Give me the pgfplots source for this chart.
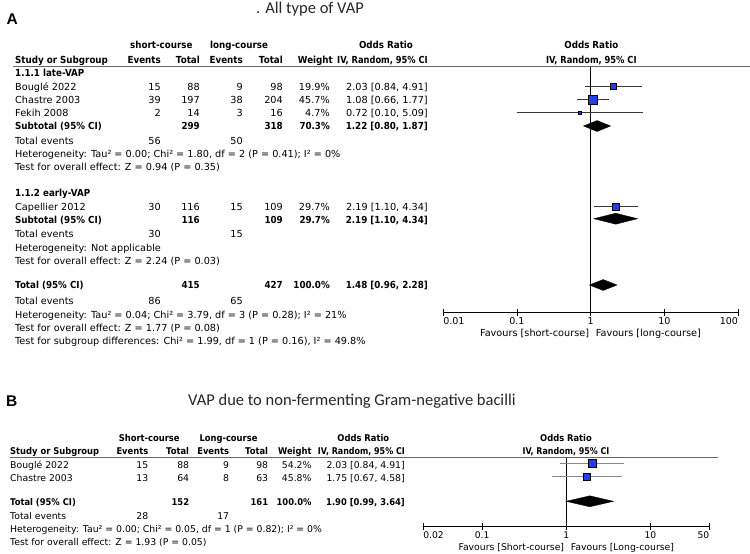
\documentclass[border=0pt]{standalone}
\usepackage{pgfplots}
\pgfplotsset{compat=1.18}
\usepackage{fontspec}
\setmainfont{DejaVu Sans}[BoldFeatures={FakeStretch=0.9}]
\newfontfamily\titlefont{Carlito}
\newfontfamily\labelfont{Liberation Sans}
\definecolor{sqblue}{RGB}{40,60,225}
\definecolor{cigrayA}{RGB}{55,55,55}
\definecolor{cigrayB}{RGB}{135,135,135}
\newcommand{\tl}[3]{\node[anchor=base west,inner sep=0pt] at (#1,#2) {#3};}
\newcommand{\tr}[3]{\node[anchor=base east,inner sep=0pt] at (#1,#2) {#3};}
\newcommand{\tc}[3]{\node[anchor=base,inner sep=0pt] at (#1,#2) {#3};}
\newcommand{\ivhdr}{\scalebox{0.95}[1]{IV, Random, 95\% CI}}
\begin{document}
\begin{tikzpicture}[x=1pt,y=-1pt]
\useasboundingbox (0,0) rectangle (750,554);
% ---------------- Panel A ----------------
\node[anchor=base west,inner sep=0pt,font=\labelfont\bfseries\fontsize{15.5}{16}\selectfont] at (6.5,24) {A};
\node[anchor=base west,inner sep=0pt,font=\titlefont\fontsize{16.5}{18}\selectfont,text=black!85] at (256,13.3) {. All type of VAP};
\begin{axis}[
  at={(443.3pt,-312pt)}, anchor=south west,
  scale only axis, width=294.7pt, height=245.5pt,
  xmode=log, xmin=0.01, xmax=100, ymin=-312, ymax=-66.5,
  axis x line=bottom, axis y line=none,
  x axis line style={-, line width=0.8pt},
  xtick={0.01,0.1,1,10,100},
  xticklabels={\rlap{0.01},0.1,1,10,\llap{100}},
  xminorticks=false, tick align=center, major tick length=7pt,
  xtick style={black, line width=0.8pt},
  xticklabel style={anchor=base, inner sep=0pt, yshift=-8.5pt, font=\fontsize{9.5}{10}\selectfont},
  clip=false,
]
\addplot[black, line width=0.8pt] coordinates {(1,-66.5) (1,-312)};
% confidence intervals
\addplot[cigrayA, line width=0.9pt] coordinates {(0.84,-86) (4.91,-86)};
\addplot[cigrayA, line width=0.9pt] coordinates {(0.66,-99.5) (1.77,-99.5)};
\addplot[cigrayA, line width=0.9pt] coordinates {(0.10,-112.5) (5.09,-112.5)};
\addplot[cigrayA, line width=0.9pt] coordinates {(1.10,-206.5) (4.34,-206.5)};
% study squares
\addplot[only marks, mark=square*, mark size=2.85pt, mark options={fill=sqblue, draw=none}] coordinates {(2.03,-86)};
\addplot[only marks, mark=square*, mark size=4.5pt, mark options={fill=sqblue, draw=none}] coordinates {(1.08,-99.5)};
\addplot[only marks, mark=square*, mark size=1.5pt, mark options={fill=sqblue, draw=none}] coordinates {(0.72,-112.5)};
\addplot[only marks, mark=square*, mark size=3.65pt, mark options={fill=sqblue, draw=none}] coordinates {(2.19,-206.5)};
% pooled diamonds
\addplot[fill=black, draw=black, line width=0.3pt] coordinates {(0.80,-126) (1.22,-120.5) (1.87,-126) (1.22,-131.5)} -- cycle;
\addplot[fill=black, draw=black, line width=0.3pt] coordinates {(1.10,-218.7) (2.19,-213.2) (4.34,-218.7) (2.19,-224.2)} -- cycle;
\addplot[fill=black, draw=black, line width=0.3pt] coordinates {(0.96,-285) (1.48,-279.5) (2.28,-285) (1.48,-290.5)} -- cycle;
\end{axis}
\draw[line width=1.1pt, black!60] (13,66.5) -- (750,66.5);
\begin{scope}[every node/.style={font=\fontsize{9.7}{11}\selectfont}]
\begin{scope}[every node/.append style={font=\fontsize{9.7}{11}\selectfont\bfseries}]
\tc{161.3}{48}{short-course}
\tc{239}{48}{long-course}
\tc{386}{48}{Odds Ratio}
\tc{591.3}{48}{Odds Ratio}
\tl{15}{63}{Study or Subgroup}
\tr{161}{63}{Events}
\tr{200}{63}{Total}
\tr{243}{63}{Events}
\tr{283}{63}{Total}
\tr{333}{63}{Weight}
\tr{428}{63}{\ivhdr}
\tc{591.3}{63}{\ivhdr}
\tl{15}{76.5}{1.1.1 late-VAP}
\tl{15}{129.5}{Subtotal (95\% CI)}
\tr{200}{129.5}{299}
\tr{283}{129.5}{318}
\tr{330}{129.5}{70.3\%}
\tr{428}{129.5}{1.22 [0.80, 1.87]}
\tl{15}{196.5}{1.1.2 early-VAP}
\tl{15}{223.5}{Subtotal (95\% CI)}
\tr{200}{223.5}{116}
\tr{283}{223.5}{109}
\tr{330}{223.5}{29.7\%}
\tr{428}{223.5}{2.19 [1.10, 4.34]}
\tl{15}{288.5}{Total (95\% CI)}
\tr{200}{288.5}{415}
\tr{283}{288.5}{427}
\tr{330}{288.5}{100.0\%}
\tr{428}{288.5}{1.48 [0.96, 2.28]}
\end{scope}
% study rows
\tl{15}{90.5}{Bouglé 2022}\tr{161}{90.5}{15}\tr{200}{90.5}{88}\tr{243}{90.5}{9}\tr{283}{90.5}{98}\tr{330}{90.5}{19.9\%}\tr{428}{90.5}{2.03 [0.84, 4.91]}
\tl{15}{103.5}{Chastre 2003}\tr{161}{103.5}{39}\tr{200}{103.5}{197}\tr{243}{103.5}{38}\tr{283}{103.5}{204}\tr{330}{103.5}{45.7\%}\tr{428}{103.5}{1.08 [0.66, 1.77]}
\tl{15}{116.5}{Fekih 2008}\tr{161}{116.5}{2}\tr{200}{116.5}{14}\tr{243}{116.5}{3}\tr{283}{116.5}{16}\tr{330}{116.5}{4.7\%}\tr{428}{116.5}{0.72 [0.10, 5.09]}
\tl{15}{144.5}{Total events}\tr{161}{144.5}{56}\tr{243}{144.5}{50}
\tl{15}{157.5}{Heterogeneity: Tau² = 0.00; Chi² = 1.80, df = 2 (P = 0.41); I² = 0\%}
\tl{15}{170.5}{Test for overall effect: Z = 0.94 (P = 0.35)}
\tl{15}{210.5}{Capellier 2012}\tr{161}{210.5}{30}\tr{200}{210.5}{116}\tr{243}{210.5}{15}\tr{283}{210.5}{109}\tr{330}{210.5}{29.7\%}\tr{428}{210.5}{2.19 [1.10, 4.34]}
\tl{15}{237.5}{Total events}\tr{161}{237.5}{30}\tr{243}{237.5}{15}
\tl{15}{251}{Heterogeneity: Not applicable}
\tl{15}{264.5}{Test for overall effect: Z = 2.24 (P = 0.03)}
\tl{15}{304.5}{Total events}\tr{161}{304.5}{86}\tr{243}{304.5}{65}
\tl{15}{318}{Heterogeneity: Tau² = 0.04; Chi² = 3.79, df = 3 (P = 0.28); I² = 21\%}
\tl{15}{331}{Test for overall effect: Z = 1.77 (P = 0.08)}
\tl{15}{344.5}{Test for subgroup differences: Chi² = 1.99, df = 1 (P = 0.16), I² = 49.8\%}
\tr{589.3}{336}{Favours [short-course]}
\tl{595.7}{336}{Favours [long-course]}
\end{scope}
% ---------------- Panel B ----------------
\node[anchor=base west,inner sep=0pt,font=\labelfont\bfseries\fontsize{15.5}{16}\selectfont] at (6,406) {B};
\node[anchor=base west,inner sep=0pt,font=\titlefont\fontsize{16.5}{18}\selectfont,text=black!85] at (188,405) {VAP due to non-fermenting Gram-negative bacilli};
\begin{axis}[
  at={(423.3pt,-526pt)}, anchor=south west,
  scale only axis, width=286pt, height=68.7pt,
  xmode=log, xmin=0.02, xmax=50, ymin=-526, ymax=-457.3,
  axis x line=bottom, axis y line=none,
  x axis line style={-, line width=0.8pt},
  xtick={0.02,0.1,1,10,50},
  xticklabels={\rlap{0.02},0.1,1,10,\llap{50}},
  xminorticks=false, tick align=center, major tick length=7pt,
  xtick style={black, line width=0.8pt},
  xticklabel style={anchor=base, inner sep=0pt, yshift=-9pt, font=\fontsize{9.2}{10}\selectfont},
  clip=false,
]
\addplot[black, line width=0.8pt] coordinates {(1,-457.3) (1,-526)};
\addplot[cigrayB, line width=0.9pt] coordinates {(0.84,-463.3) (4.91,-463.3)};
\addplot[cigrayB, line width=0.9pt] coordinates {(0.67,-476.7) (4.58,-476.7)};
\addplot[only marks, mark=square*, mark size=4pt, mark options={fill=sqblue, draw=none}] coordinates {(2.03,-463.3)};
\addplot[only marks, mark=square*, mark size=3.6pt, mark options={fill=sqblue, draw=none}] coordinates {(1.75,-476.7)};
\addplot[fill=black, draw=black, line width=0.3pt] coordinates {(0.99,-501.3) (1.90,-495.8) (3.64,-501.3) (1.90,-506.8)} -- cycle;
\end{axis}
\draw[line width=1.1pt, black!60] (10,457.3) -- (718,457.3);
\begin{scope}[every node/.style={font=\fontsize{9.3}{11}\selectfont}]
\begin{scope}[every node/.append style={font=\fontsize{9.3}{11}\selectfont\bfseries}]
\tc{149.2}{441}{Short-course}
\tc{228.5}{441}{Long-course}
\tc{363.3}{441}{Odds Ratio}
\tc{566}{441}{Odds Ratio}
\tl{10}{454}{Study or Subgroup}
\tr{148.5}{454}{Events}
\tr{189.3}{454}{Total}
\tr{229.3}{454}{Events}
\tr{268.3}{454}{Total}
\tr{311.7}{454}{Weight}
\tr{405}{454}{\ivhdr}
\tc{566}{454}{\ivhdr}
\tl{10}{505.2}{Total (95\% CI)}
\tr{189.3}{505.2}{152}
\tr{268.3}{505.2}{161}
\tr{311.7}{505.2}{100.0\%}
\tr{405}{505.2}{1.90 [0.99, 3.64]}
\end{scope}
\tl{10}{468.5}{Bouglé 2022}\tr{148.5}{468.5}{15}\tr{189.3}{468.5}{88}\tr{229.3}{468.5}{9}\tr{268.3}{468.5}{98}\tr{311.7}{468.5}{54.2\%}\tr{405}{468.5}{2.03 [0.84, 4.91]}
\tl{10}{481.8}{Chastre 2003}\tr{148.5}{481.8}{13}\tr{189.3}{481.8}{64}\tr{229.3}{481.8}{8}\tr{268.3}{481.8}{63}\tr{311.7}{481.8}{45.8\%}\tr{405}{481.8}{1.75 [0.67, 4.58]}
\tl{10}{519.5}{Total events}\tr{148.5}{519.5}{28}\tr{229.3}{519.5}{17}
\tl{10}{532.5}{Heterogeneity: Tau² = 0.00; Chi² = 0.05, df = 1 (P = 0.82); I² = 0\%}
\tl{10}{545.5}{Test for overall effect: Z = 1.93 (P = 0.05)}
\tr{564.3}{550}{Favours [Short-course]}
\tl{570.7}{550}{Favours [Long-course]}
\end{scope}
\end{tikzpicture}
\end{document}
